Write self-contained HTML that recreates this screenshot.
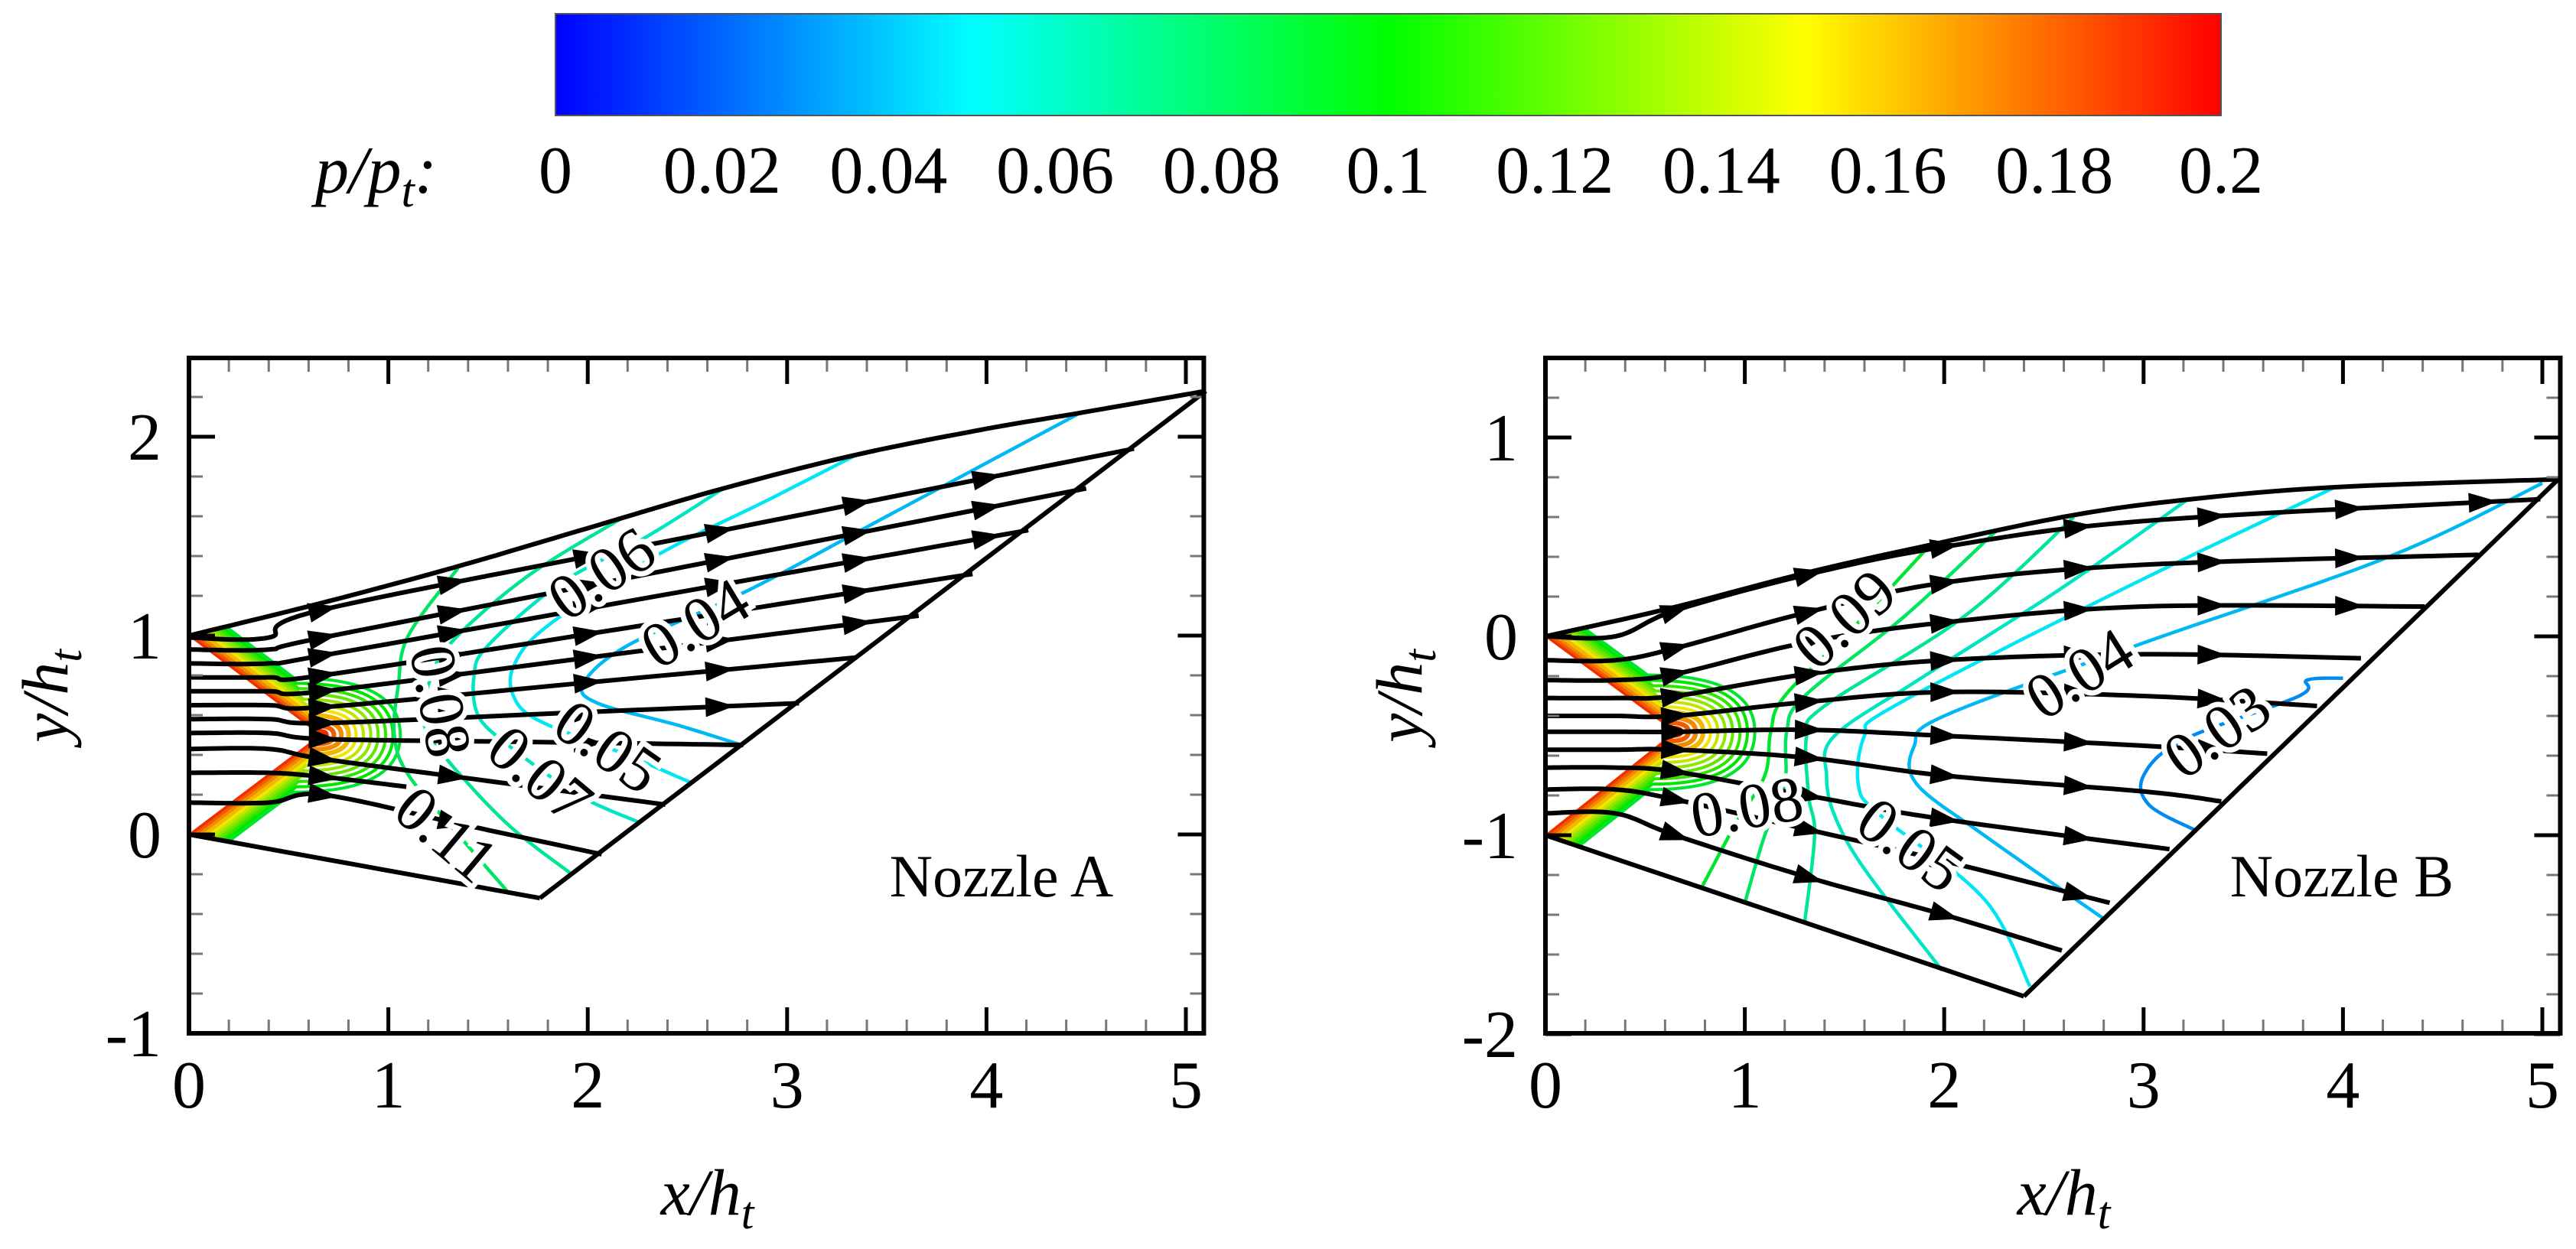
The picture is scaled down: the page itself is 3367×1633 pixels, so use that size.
<!DOCTYPE html>
<html><head><meta charset="utf-8"><style>
html,body{margin:0;padding:0;background:#fff;}
svg{display:block;font-family:"Liberation Serif","Tinos","Times New Roman",Times,serif;}
svg text{font-family:"Liberation Serif","Tinos","Times New Roman",Times,serif;}
</style></head><body>
<svg id="fig" width="3367" height="1633" viewBox="0 0 3367 1633" xmlns="http://www.w3.org/2000/svg">
<defs>
<linearGradient id="cmap" x1="0" x2="1" y1="0" y2="0">
<stop offset="0" stop-color="#0000ff"/><stop offset="0.25" stop-color="#00ffff"/><stop offset="0.5" stop-color="#00ff00"/><stop offset="0.75" stop-color="#ffff00"/><stop offset="1" stop-color="#ff0000"/>
</linearGradient>
</defs>
<g id="colorbar"></g>
<g id="plotA"></g>
<g id="plotB"></g>
</svg>
<script>
// ---- colorbar data ----
const cbTicks=[0,0.02,0.04,0.06,0.08,0.1,0.12,0.14,0.16,0.18,0.2];
const cbTickLabels=["0","0.02","0.04","0.06","0.08","0.1","0.12","0.14","0.16","0.18","0.2"];
// ---- Nozzle A data ----
const aUpperWall=[[0,1],[0.65,1.16],[1.32,1.34],[2.0,1.54],[2.68,1.74],[3.35,1.91],[4.0,2.04],[4.47,2.12],[5.1,2.23]];
const aLowerWall=[[0,0],[1.76,-0.32]];
const aExit=[[1.76,-0.32],[5.1,2.23]];
const aApex=[0.66,0.5];
const aInletY=[0.99,0.93,0.86,0.79,0.72,0.65,0.58,0.51,0.43,0.16];
const aThroatY=[1.13,0.99,0.90,0.80,0.72,0.64,0.56,0.48,0.38,0.20];
const aEndX=[4.74,4.50,4.21,3.93,3.66,3.35,3.06,2.78,2.39,2.07];
const aEndY=[1.94,1.74,1.53,1.31,1.10,0.89,0.66,0.45,0.15,-0.10];
const aStubY=[0.31];
const aStubEnd=[[1.09,0.24]];
const aContourLevels=[0.04,0.05,0.06,0.07,0.08];
const aContours=[
 [[4.47,2.12],[3.5,1.6],[2.81,1.23],[2.2,0.95],[1.98,0.76],[2.05,0.66],[2.45,0.55],[2.77,0.45]],
 [[3.35,1.91],[2.9,1.68],[2.34,1.40],[1.8,1.05],[1.63,0.85],[1.63,0.69],[1.76,0.57],[2.17,0.41],[2.52,0.26]],
 [[2.68,1.74],[2.3,1.5],[1.86,1.26],[1.5,0.95],[1.43,0.80],[1.45,0.6],[1.6,0.45],[1.95,0.2],[2.26,0.06]],
 [[2.17,1.59],[1.7,1.3],[1.32,0.97],[1.2,0.75],[1.18,0.55],[1.3,0.37],[1.6,0.05],[1.92,-0.2]],
 [[1.35,1.34],[1.1,1.0],[1.05,0.75],[1.03,0.5],[1.1,0.3],[1.35,0.0],[1.6,-0.29]]
];
const aLabels=["0.06","0.04","0.08","0.07","0.05","0.11","Nozzle A"];
const aLabelPos=[[2.07,1.31,-34],[2.54,1.06,-31],[1.26,0.67,80],[1.76,0.30,40],[2.1,0.44,35],[1.29,0.0,40]];
// ---- Nozzle B data ----
const bUpperWall=[[0,0],[0.62,0.14],[1.31,0.32],[1.93,0.46],[2.65,0.61],[3.24,0.69],[3.96,0.75],[5.08,0.79]];
const bLowerWall=[[0,-1],[2.40,-1.81]];
const bExit=[[2.40,-1.81],[5.08,0.79]];
const bApex=[0.65,-0.48];
const bInletY=[0.0,-0.12,-0.22,-0.31,-0.40,-0.48,-0.57,-0.66,-0.77,-0.89];
const bThroatY=[0.13,-0.06,-0.19,-0.30,-0.40,-0.48,-0.57,-0.68,-0.82,-1.0];
const bY131=[0.31,0.12,-0.03,-0.19,-0.33,-0.47,-0.61,-0.80,-0.97,-1.21];
const bY200=[0.45,0.27,0.07,-0.12,-0.28,-0.50,-0.70,-0.92,-1.13,-1.40];
const bYmid=[0.58,0.36,0.15,-0.09,-0.30,-0.55,-0.78,null,null,null];
const bEndX=[4.99,4.68,4.41,4.09,3.87,3.62,3.39,3.13,2.83,2.59];
const bEndY=[0.69,0.41,0.15,-0.11,-0.35,-0.59,-0.83,-1.07,-1.34,-1.58];
const bContourLevels=[0.03,0.04,0.05,0.06,0.07,0.08,0.09];
const bContours=[
 [[4.0,-0.21],[3.82,-0.22],[3.78,-0.3],[3.2,-0.52],[3.0,-0.7],[3.03,-0.85],[3.27,-0.98]],
 [[5.0,0.77],[4.23,0.40],[2.98,-0.04],[2.0,-0.4],[1.85,-0.55],[1.86,-0.74],[2.2,-1.0],[2.8,-1.42]],
 [[3.96,0.75],[2.9,0.24],[1.75,-0.35],[1.6,-0.5],[1.57,-0.75],[1.68,-0.9],[2.2,-1.32],[2.43,-1.76]],
 [[3.21,0.68],[2.6,0.25],[1.9,-0.2],[1.45,-0.5],[1.41,-0.7],[1.45,-0.9],[1.6,-1.17],[1.99,-1.68]],
 [[2.65,0.60],[2.1,0.1],[1.4,-0.35],[1.31,-0.5],[1.32,-0.8],[1.35,-1.0],[1.3,-1.44]],
 [[2.26,0.53],[1.8,0.1],[1.3,-0.3],[1.21,-0.48],[1.2,-0.75],[1.1,-1.0],[1.0,-1.34]],
 [[1.93,0.46],[1.55,0.05],[1.2,-0.3],[1.13,-0.48],[1.1,-0.7],[0.95,-0.95],[0.78,-1.27]]
];
const bLabels=["0.09","0.04","0.03","0.08","0.05","Nozzle B"];
const bLabelPos=[[1.5,0.085,-42],[2.68,-0.19,-32],[3.37,-0.48,-35],[1.01,-0.86,-10],[1.83,-1.05,36]];
const fanLevels=[0.19,0.18,0.17,0.16,0.15,0.14,0.13,0.12,0.11,0.10,0.09];
const xTickVals=[0,1,2,3,4,5];
const aYTicks=[-1,0,1,2];
const bYTicks=[-2,-1,0,1];

const NS="http://www.w3.org/2000/svg";
const FONT='"Liberation Serif", "Tinos", "Times New Roman", Times, serif';
function mk(parent,tag,attrs,txt){const e=document.createElementNS(NS,tag);for(const k in attrs)e.setAttribute(k,attrs[k]);if(tag==='text')e.setAttribute('font-family',FONT);if(txt!==undefined)e.textContent=txt;parent.appendChild(e);return e;}
function cmap(v){const t=Math.max(0,Math.min(1,v/0.2))*4;const stops=[[0,0,255],[0,255,255],[0,255,0],[255,255,0],[255,0,0]];const i=Math.min(3,Math.floor(t));const f=t-i;const c=stops[i].map((a,k)=>Math.round(a+(stops[i+1][k]-a)*f));
 return `rgb(${Math.round(c[0]*0.95)},${Math.round(c[1]*0.9)},${Math.round(c[2]*0.95)})`;}
function catmull(P,n){const out=[];for(let i=0;i<P.length-1;i++){const p0=P[Math.max(0,i-1)],p1=P[i],p2=P[i+1],p3=P[Math.min(P.length-1,i+2)];for(let s=0;s<n;s++){const t=s/n,t2=t*t,t3=t2*t;const f=(a,b,c,d)=>0.5*((2*b)+(-a+c)*t+(2*a-5*b+4*c-d)*t2+(-a+3*b-3*c+d)*t3);out.push([f(p0[0],p1[0],p2[0],p3[0]),f(p0[1],p1[1],p2[1],p3[1])]);}}out.push(P[P.length-1]);return out;}
function pathD(pts){return pts.map((p,i)=>(i?"L":"M")+p[0].toFixed(1)+","+p[1].toFixed(1)).join("");}

(function(){
 const g=document.getElementById('colorbar');
 const x0=726,x1=2903;
 const r=mk(g,'rect',{x:x0,y:18,width:x1-x0,height:133,fill:'url(#cmap)',stroke:'#555','stroke-width':2});
 
 const t=mk(g,'text',{x:412,y:252,'font-size':88,'font-style':'italic'});
 
 t.innerHTML='p/p<tspan font-size="62" dy="18">t</tspan><tspan dy="-18">:</tspan>';
 cbTicks.forEach((v,i)=>{const e=mk(g,'text',{x:x0+(x1-x0)*v/0.2,y:252,'font-size':88,'text-anchor':'middle'},cbTickLabels[i]);
  });
})();

function drawPlot(gid,cfg){
 const g=document.getElementById(gid);
 const x0=cfg.x0,sx=260.6,sy=260,yz=cfg.yz;
 const X=x=>x0+sx*x, Y=y=>yz-sy*y;
 const P=p=>[X(p[0]),Y(p[1])];
 const left=x0,right=X(5.09),top=468,bottom=1351;
 const A=cfg.apex;
 const up=[0-A[0],cfg.upLip-A[1]],lo=[0-A[0],cfg.loLip-A[1]];
 const lu=Math.hypot(up[0],up[1]),ll=Math.hypot(lo[0],lo[1]);
 const uu=[up[0]/lu,up[1]/lu],ul=[lo[0]/ll,lo[1]/ll];
 const nu=[-uu[1],uu[0]];if(nu[0]<0){nu[0]=-nu[0];nu[1]=-nu[1];}
 const nl=[-ul[1],ul[0]];if(nl[0]<0){nl[0]=-nl[0];nl[1]=-nl[1];}
 const wallU=x=>cfg.upLip+cfg.upSlope*x, wallL=x=>cfg.loLip+cfg.loSlope*x;
 fanLevels.forEach((lev,k)=>{
  const de=0.008+k*0.014, da=0.03+k*0.037;
  let tu=lu;for(let t=0;t<lu+0.5;t+=0.005){const px=A[0]+uu[0]*t+nu[0]*de,py=A[1]+uu[1]*t+nu[1]*de;if(py>=wallU(px)||px<=0){tu=t;break;}}
  let tl=ll;for(let t=0;t<ll+0.5;t+=0.005){const px=A[0]+ul[0]*t+nl[0]*de,py=A[1]+ul[1]*t+nl[1]*de;if(py<=wallL(px)||px<=0){tl=t;break;}}
  const uS=[A[0]+uu[0]*tu+nu[0]*de,A[1]+uu[1]*tu+nu[1]*de];
  const uE=[A[0]+uu[0]*da*0.7+nu[0]*de,A[1]+uu[1]*da*0.7+nu[1]*de];
  const R=[A[0]+da,A[1]];
  const lE=[A[0]+ul[0]*da*0.7+nl[0]*de,A[1]+ul[1]*da*0.7+nl[1]*de];
  const lS=[A[0]+ul[0]*tl+nl[0]*de,A[1]+ul[1]*tl+nl[1]*de];
  const c1=[R[0],uE[1]],c2=[R[0],lE[1]];
  const q=[uS,uE,c1,R,c2,lE,lS].map(P);
  const d=`M${q[0]}L${q[1]}Q${q[2]} ${q[3]}Q${q[4]} ${q[5]}L${q[6]}`;
  const e=mk(g,'path',{d:d,fill:'none',stroke:cmap(lev),'stroke-width':k<4?6:4});
  
 });
 cfg.contours.forEach((c,i)=>{const e=mk(g,'path',{d:pathD(catmull(c.map(P),12)),fill:'none',stroke:cmap(cfg.levels[i]),'stroke-width':4.5});
  });
 [['upper-wall',cfg.upper],['lower-wall',cfg.lower],['exit-line',cfg.exit]].forEach(([n,w])=>{
  const e=mk(g,'path',{d:pathD(catmull(w.map(P),12)),fill:'none',stroke:'#000','stroke-width':6,'stroke-linejoin':'round'});
  });
 cfg.streams.forEach((pts,i)=>{
  const s=catmull(pts.map(P),16);
  const e=mk(g,'path',{d:pathD(s),fill:'none',stroke:'#000','stroke-width':6});
  
  const ex=pts[pts.length-1][0];
  cfg.arrowX.forEach(ax=>{
   if(ax>ex-0.12)return;
   const px=X(ax);let j=-1;
   for(let k=0;k<s.length-1;k++){if(s[k][0]<=px&&s[k+1][0]>px){j=k;break;}}
   if(j<0)return;
   const a=s[j],b=s[j+1],f=(px-a[0])/(b[0]-a[0]);const py=a[1]+(b[1]-a[1])*f;
   const ang=Math.atan2(b[1]-a[1],b[0]-a[0])*180/Math.PI;
   const ar=mk(g,'path',{d:'M20,0L-18,-13L-18,13Z',fill:'#000',transform:`translate(${px.toFixed(1)},${py.toFixed(1)}) rotate(${ang.toFixed(1)})`});
   
  });
 });
 cfg.labelPos.forEach((lp,i)=>{
  const e=mk(g,'text',{x:X(lp[0]),y:Y(lp[1]),'font-size':84,'text-anchor':'middle','dominant-baseline':'central',transform:`rotate(${lp[2]} ${X(lp[0])} ${Y(lp[1])})`,fill:'#000',stroke:'#fff','stroke-width':14,'paint-order':'stroke'},cfg.labels[i]);
  
 });
 const nz=mk(g,'text',{x:cfg.nameX,y:1172,'font-size':78,'text-anchor':'middle'},cfg.labels[cfg.labels.length-1]);
 
 for(let v=0;v<=5.001;v+=0.2){const xx=X(v);const major=Math.abs(v-Math.round(v))<1e-6;const L=major?34:18;
  const t1=mk(g,'line',{x1:xx,y1:bottom,x2:xx,y2:bottom-L,stroke:major?'#000':'#777','stroke-width':major?5:3});
  
  const t2=mk(g,'line',{x1:xx,y1:top,x2:xx,y2:top+L,stroke:major?'#000':'#777','stroke-width':major?5:3});
  }
 for(let v=cfg.yTicks[0];v<=cfg.yTicks[0]+3.4;v+=0.2){const yy=Y(v);if(yy<top+2)continue;const major=Math.abs(v-Math.round(v))<1e-6;const L=major?34:18;
  const t1=mk(g,'line',{x1:left,y1:yy,x2:left+L,y2:yy,stroke:major?'#000':'#777','stroke-width':major?5:3});
  
  const t2=mk(g,'line',{x1:right,y1:yy,x2:right-L,y2:yy,stroke:major?'#000':'#777','stroke-width':major?5:3});
  }
 const fr=mk(g,'rect',{x:left,y:top,width:right-left,height:bottom-top,fill:'none',stroke:'#000','stroke-width':6});
 
 xTickVals.forEach(v=>{const e=mk(g,'text',{x:X(v),y:1448,'font-size':88,'text-anchor':'middle'},String(v));
  });
 cfg.yTicks.forEach(v=>{const e=mk(g,'text',{x:left-36,y:Y(v)+30,'font-size':88,'text-anchor':'end'},String(v));
  });
 const xt=mk(g,'text',{x:X(2.6),y:1588,'font-size':86,'font-style':'italic','text-anchor':'middle'});
 
 xt.innerHTML='x/h<tspan font-size="60" dy="18">t</tspan>';
 const yc=cfg.yTitleX,ycy=910;
 const yt=mk(g,'text',{x:yc,y:ycy,'font-size':86,'font-style':'italic','text-anchor':'middle',transform:`rotate(-90 ${yc} ${ycy})`});
 
 yt.innerHTML='y/h<tspan font-size="60" dy="18">t</tspan>';
}

const aStreams=aInletY.map((y0,i)=>{const p=aThroatY[i];const ex=aEndX[i],ey=aEndY[i];
 return [[0,y0],[0.4,y0],[0.67,p],[0.67+(ex-0.67)*0.5,p+(ey-p)*0.5],[ex,ey]];});
aStubY.forEach((y0,i)=>aStreams.push([[0,y0],[0.4,y0],[0.67,y0-0.02],aStubEnd[i]]));
const bStreams=bInletY.map((y0,i)=>{const pts=[[0,y0],[0.35,y0],[0.65,bThroatY[i]],[1.31,bY131[i]],[2.0,bY200[i]]];
 if(bYmid[i]!==null)pts.push([3.0,bYmid[i]]);pts.push([bEndX[i],bEndY[i]]);return pts;});

drawPlot('plotA',{x0:247,yz:1091,apex:aApex,upLip:1,loLip:0,upSlope:0.24,loSlope:-0.18,upper:aUpperWall,lower:aLowerWall,exit:aExit,
 contours:aContours,levels:aContourLevels,streams:aStreams,arrowX:[0.67,1.32,2.0,2.66,3.35,4.0,4.67],
 labels:aLabels,labelPos:aLabelPos,nameX:1309,yTicks:aYTicks,yTitleX:88});
drawPlot('plotB',{x0:2020,yz:832,apex:bApex,upLip:0,loLip:-1,upSlope:0.22,loSlope:-0.34,upper:bUpperWall,lower:bLowerWall,exit:bExit,
 contours:bContours,levels:bContourLevels,streams:bStreams,arrowX:[0.65,1.32,2.0,2.67,3.34,4.03,4.7],
 labels:bLabels,labelPos:bLabelPos,nameX:3061,yTicks:bYTicks,yTitleX:1858});
</script>
</body></html>
